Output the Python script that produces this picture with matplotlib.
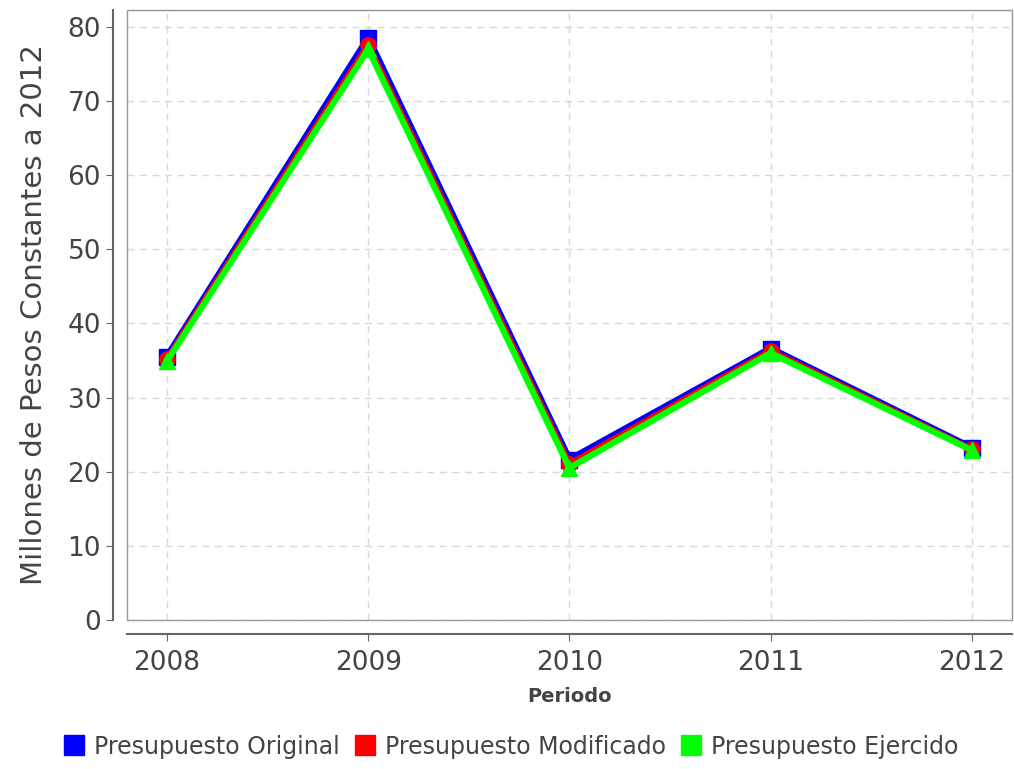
import matplotlib.pyplot as plt
from matplotlib.patches import Rectangle

# data
years = ['2008', '2009', '2010', '2011', '2012']
original = [35.5, 78.5, 21.6, 36.6, 23.2]
modificado = [35.2, 77.6, 21.0, 36.3, 23.0]
ejercido = [34.9, 77.0, 20.5, 36.0, 22.9]

fig = plt.figure(figsize=(10.14, 7.69), dpi=100)
ax = fig.add_axes([0.125, 0.194, 0.873, 0.793])

x = range(len(years))
ax.plot(x, original, color='#0000ff', lw=5, marker='s', ms=12, label='Presupuesto Original', zorder=3)
ax.plot(x, modificado, color='#ff0000', lw=4.5, marker='o', ms=11, label='Presupuesto Modificado', zorder=4)
ax.plot(x, ejercido, color='#00ff00', lw=4.5, marker='^', ms=12, label='Presupuesto Ejercido', zorder=5)

ax.set_xlim(-0.2, 4.2)
ax.set_ylim(0, 82.3)
ax.set_xticks(list(x))
ax.set_xticklabels(years)
ax.set_yticks(range(0, 81, 10))

# grid
ax.grid(True, color='#d8d8d8', linestyle=(0, (5, 4)), lw=1)
ax.set_axisbelow(True)

# frame of the plot area, axis lines offset outside
for s in ['top', 'right']:
    ax.spines[s].set_color('#999999')
for s in ['left', 'bottom']:
    ax.spines[s].set_position(('outward', 10))
    ax.spines[s].set_color('#666666')
    ax.spines[s].set_linewidth(1.5)
ax.add_patch(Rectangle((0, 0), 1, 1, transform=ax.transAxes, fill=False,
                       edgecolor='#999999', lw=1, clip_on=False, zorder=1))

ax.tick_params(axis='both', colors='#666666', labelcolor='#444444', labelsize=19, length=5)
ax.tick_params(axis='x', pad=7)
ax.set_ylabel('Millones de Pesos Constantes a 2012', fontsize=21, color='#444444', labelpad=14)
ax.set_xlabel('Periodo', fontsize=14, color='#444444', fontweight='bold', labelpad=8)

leg = fig.legend(loc='lower center', bbox_to_anchor=(0.505, -0.014), ncol=3, frameon=False,
                 fontsize=17, handlelength=0.7, handletextpad=0.5, columnspacing=0.7)
for h, c in zip(leg.legend_handles, ['#0000ff', '#ff0000', '#00ff00']):
    h.set_marker('s')
    h.set_markersize(14)
    h.set_linestyle('none')
    h.set_color(c)
for t in leg.get_texts():
    t.set_color('#444444')

fig.savefig('out.png', dpi=100)
